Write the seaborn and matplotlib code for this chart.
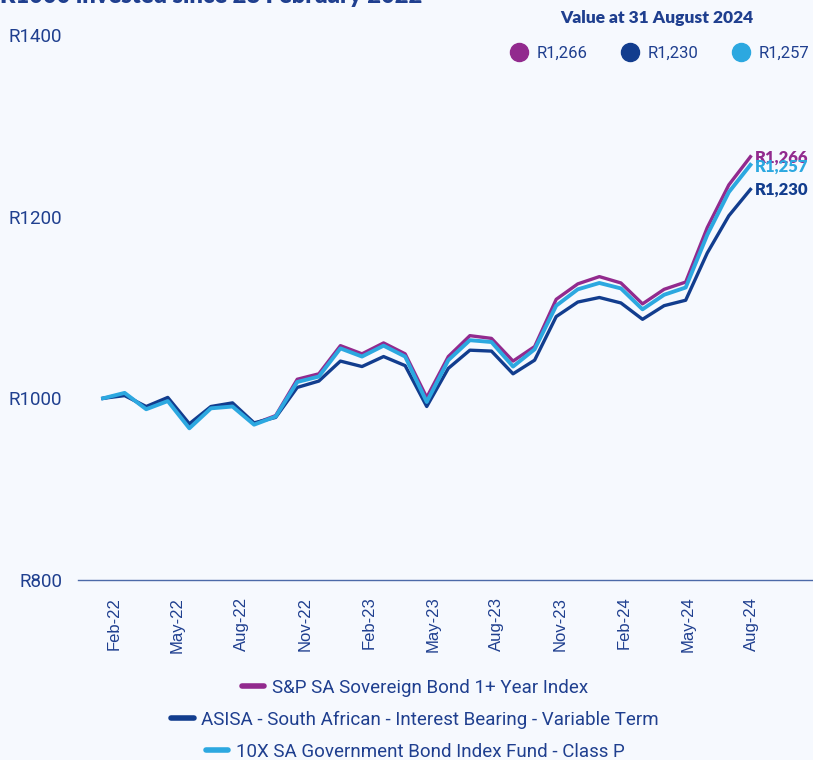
import numpy as np
import pandas as pd
import seaborn as sns
import matplotlib.pyplot as plt
from matplotlib.lines import Line2D

months = ["Feb-22", "Mar-22", "Apr-22", "May-22", "Jun-22", "Jul-22", "Aug-22", "Sep-22",
          "Oct-22", "Nov-22", "Dec-22", "Jan-23", "Feb-23", "Mar-23", "Apr-23", "May-23",
          "Jun-23", "Jul-23", "Aug-23", "Sep-23", "Oct-23", "Nov-23", "Dec-23", "Jan-24",
          "Feb-24", "Mar-24", "Apr-24", "May-24", "Jun-24", "Jul-24", "Aug-24"]

sp_index = [1000, 1005, 989, 999, 969, 990, 993, 972, 981, 1021, 1027, 1058, 1049, 1061, 1049,
            1001, 1046, 1069, 1066, 1041, 1057, 1109, 1126, 1134, 1127, 1104, 1120, 1128,
            1188, 1235, 1266]
asisa = [1000, 1003, 991, 1001, 972, 991, 995, 973, 979, 1012, 1019, 1041, 1035, 1046, 1036,
         991, 1033, 1053, 1052, 1027, 1042, 1090, 1106, 1111, 1105, 1087, 1102, 1108,
         1160, 1201, 1230]
tenx = [1000, 1006, 988, 997, 967, 989, 991, 971, 980, 1018, 1024, 1055, 1046, 1058, 1046,
        996, 1042, 1064, 1062, 1035, 1054, 1102, 1120, 1127, 1121, 1098, 1114, 1122,
        1180, 1227, 1257]

names = ["S&P SA Sovereign Bond 1+ Year Index",
         "ASISA - South African - Interest Bearing - Variable Term",
         "10X SA Government Bond Index Fund - Class P"]
end_labels = ["R1,266", "R1,230", "R1,257"]
tick_months = months[::3]

colors = ["#922A8E", "#123D8E", "#2CA8E0"]
widths = [2.4, 2.4, 2.8]
txt = "#1F3F8F"
bg = "#F6F9FE"

df = pd.DataFrame({"m": np.arange(len(months)), names[0]: sp_index, names[1]: asisa, names[2]: tenx})
long = df.melt(id_vars="m", var_name="series", value_name="value")

fig = plt.figure(figsize=(8.13, 7.6), dpi=100, facecolor=bg)
ax = fig.add_axes([78 / 813, 1 - 580 / 760, 1 - 78 / 813, (580 - 35) / 760])
ax.set_facecolor(bg)

for name, c, w in zip(names, colors, widths):
    sns.lineplot(data=long[long["series"] == name], x="m", y="value", color=c,
                 linewidth=w, ax=ax, legend=False)

ax.set_xlim(-1.16, 32.9)
ax.set_ylim(800, 1400)
ax.set_yticks([800, 1000, 1200, 1400])
ax.set_yticklabels(["R800", "R1000", "R1200", "R1400"], family="Roboto", fontsize=13.5, color=txt)
ax.set_xticks(np.linspace(0.5, 30.05, len(tick_months)))
ax.set_xticklabels(tick_months, rotation=90, family="Liberation Sans", fontsize=12, color=txt)
ax.tick_params(axis="x", length=0, pad=12)
ax.tick_params(axis="y", length=0, pad=11.5)
ax.set_xlabel("")
ax.set_ylabel("")
for s in ["top", "right", "left"]:
    ax.spines[s].set_visible(False)
ax.spines["bottom"].set_color("#4C6AA8")
ax.spines["bottom"].set_linewidth(1.0)

# end-of-series labels
last = len(months) - 1
for lab, c, yv in zip(end_labels, colors, [1265, 1230, 1255]):
    ax.text(last + 0.2, yv, lab, color=c, fontsize=12, weight="heavy", family="Lato",
            va="center", ha="left", clip_on=False)

# top-right value legend
fig.text(657 / 813, 1 - 18 / 760, "Value at 31 August 2024", color=txt, fontsize=12.5,
         weight="heavy", family="Lato", ha="center", va="center")
dots = [Line2D([], [], marker="o", linestyle="", markersize=13, color=c) for c in colors]
fig.legend(dots, end_labels, loc="center", bbox_to_anchor=(660 / 813, 1 - 53 / 760), ncol=3,
           frameon=False, handlelength=1.0, handletextpad=0.6, columnspacing=2.0, borderaxespad=0,
           prop={"family": "Roboto", "size": 12}, labelcolor=txt)

# partially visible title at the very top
fig.text(0.0, 1 - 3 / 760, "R1000 invested since 28 February 2022", color=txt, fontsize=17,
         weight="heavy", family="Lato", ha="left", va="baseline")

# bottom legend, one centred row per series
for name, c, yy in zip(names, colors, [688, 720, 752]):
    h = Line2D([], [], color=c, linewidth=4, solid_capstyle="round")
    fig.legend([h], [name], loc="center", bbox_to_anchor=(415 / 813, 1 - yy / 760),
               frameon=False, handlelength=1.2, handletextpad=0.4, borderaxespad=0,
               prop={"family": "Roboto", "size": 13.5}, labelcolor=txt)

fig.savefig("out.png", dpi=100, facecolor=bg)
